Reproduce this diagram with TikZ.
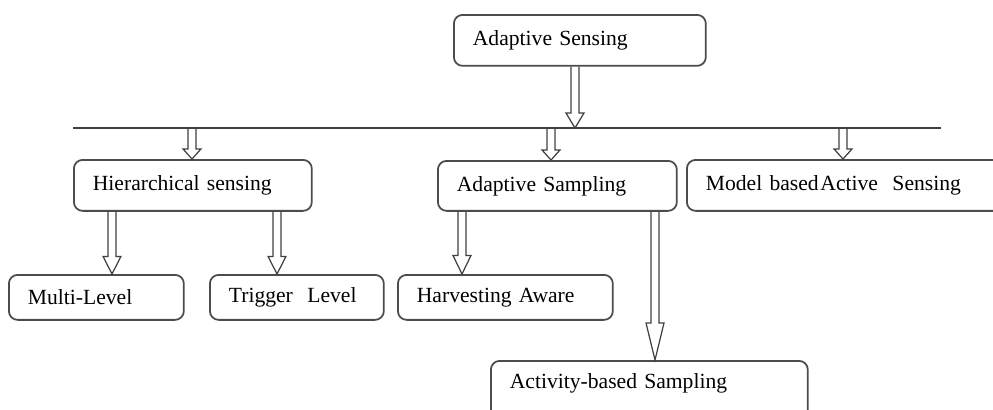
\documentclass[tikz,border=0pt]{standalone}
\usepackage{fontspec}
\setmainfont{Liberation Serif}
\usetikzlibrary{calc}
\newcommand{\hollowarrow}[3][9pt]{%
  \draw[harrow] let \p1=(#2), \p2=(#3) in
  (\x1-2.3pt,\y1) -- (\x1-2.3pt,\y2+#1) -- (\x1-5.1pt,\y2+#1) -- (\x1,\y2)
  -- (\x1+5.1pt,\y2+#1) -- (\x1+2.3pt,\y2+#1) -- (\x1+2.3pt,\y1);}

\begin{document}
\begin{tikzpicture}[x=0.02cm, y=-0.02cm,
  box/.style={draw=black!70, line width=1pt, rounded corners=5pt, anchor=north west,
    inner xsep=0.38cm, inner ysep=0pt, align=left, font=\fontsize{12.3}{14}\selectfont},
  harrow/.style={draw=black!75, line width=0.7pt, line join=miter},
  bar/.style={draw=black!75, line width=0.8pt}]
  \useasboundingbox (0,0) rectangle (993,409);
  \clip (0,0) rectangle (993,409);

  \node[box, text width=4.28cm, minimum height=1.02cm] (sense) at (453,14) {Adaptive Sensing};
  \node[box, text width=4.0cm, minimum height=1.02cm] (hier) at (73,159) {Hierarchical sensing};
  \node[box, text width=4.02cm, minimum height=1.0cm] (samp) at (437,160) {Adaptive Sampling};
  \node[box, text width=5.64cm, minimum height=1.02cm] (model) at (686,159) {Model based\hspace{1pt}Active\ \ Sensing};
  \node[box, text width=2.74cm, minimum height=0.9cm] (multi) at (8,274) {Multi-Level};
  \node[box, text width=2.72cm, minimum height=0.9cm] (trig) at (209,274) {Trigger\ \ Level};
  \node[box, text width=3.54cm, minimum height=0.9cm] (harv) at (397,274) {Harvesting Aware};
  \node[box, text width=5.58cm, text height=0.56cm, text depth=0.6cm] (act) at (490,360) {Activity-based Sampling};

  \coordinate (bar west) at (73,128);
  \coordinate (bar east) at (941,128);
  \draw[bar] (bar west) -- (bar east);

  \hollowarrow[8.5pt]{575,0 |- sense.south}{bar west}
  \hollowarrow[5.7pt]{192,0 |- bar west}{hier.north}
  \hollowarrow[5.7pt]{551,0 |- bar west}{samp.north}
  \hollowarrow[5.7pt]{843,0 |- bar west}{model.north}
  \hollowarrow[10pt]{112,0 |- hier.south}{multi.north}
  \hollowarrow[10pt]{277,0 |- hier.south}{trig.north}
  \hollowarrow[10.5pt]{462,0 |- samp.south}{harv.north}
  \hollowarrow[21pt]{655,0 |- samp.south}{act.north}
\end{tikzpicture}
\end{document}
